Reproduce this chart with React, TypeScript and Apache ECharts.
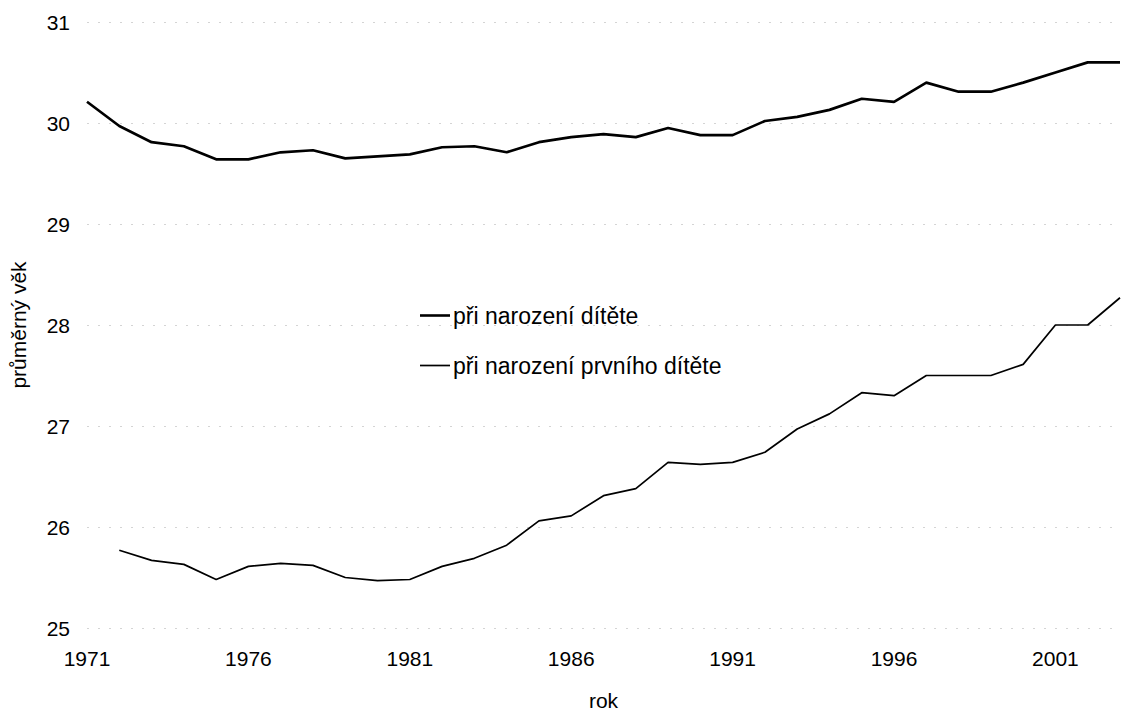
import React, { useEffect, useRef } from "react";
import * as echarts from "echarts";

const years: string[] = [
  "1971","1972","1973","1974","1975","1976","1977","1978","1979","1980",
  "1981","1982","1983","1984","1985","1986","1987","1988","1989","1990",
  "1991","1992","1993","1994","1995","1996","1997","1998","1999","2000",
  "2001","2002","2003",
];

const seriesNames: string[] = ["při narození dítěte", "při narození prvního dítěte"];

const ageAtBirth: number[] = [
  30.21, 29.97, 29.81, 29.77, 29.64, 29.64, 29.71, 29.73, 29.65, 29.67,
  29.69, 29.76, 29.77, 29.71, 29.81, 29.86, 29.89, 29.86, 29.95, 29.88,
  29.88, 30.02, 30.06, 30.13, 30.24, 30.21, 30.40, 30.31, 30.31, 30.40,
  30.50, 30.60, 30.60,
];

const ageAtFirstBirth: (number | null)[] = [
  null, 25.77, 25.67, 25.63, 25.48, 25.61, 25.64, 25.62, 25.50, 25.47,
  25.48, 25.61, 25.69, 25.82, 26.06, 26.11, 26.31, 26.38, 26.64, 26.62,
  26.64, 26.74, 26.97, 27.12, 27.33, 27.30, 27.50, 27.50, 27.50, 27.61,
  28.00, 28.00, 28.27,
];

const yMin = 25;
const yMax = 31;
const yStep = 1;

const FONT = "Arial, 'Liberation Sans', Helvetica, sans-serif";

export default function App() {
  const ref = useRef<HTMLDivElement>(null);

  useEffect(() => {
    document.body.style.margin = "0";
    if (!ref.current) return;
    const chart = echarts.init(ref.current, undefined, { renderer: "svg" });
    chart.setOption({
      animation: false,
      backgroundColor: "#ffffff",
      textStyle: { fontFamily: FONT, color: "#000" },
      grid: { left: 80, right: 2, top: 22, bottom: 74, containLabel: false },
      legend: {
        data: [
          { name: seriesNames[0], icon: "path://M0,0 L30,0 L30,2.6 L0,2.6 Z" },
          { name: seriesNames[1], icon: "path://M0,0 L30,0 L30,1.7 L0,1.7 Z" },
        ],
        orient: "vertical",
        left: 415,
        top: 299,
        itemWidth: 30,
        itemHeight: 3,
        itemGap: 27,
        itemStyle: { color: "#000" },
        textStyle: { fontFamily: FONT, fontSize: 23, color: "#000", padding: [0, 0, 0, -2] },
      },
      xAxis: {
        type: "category",
        data: years,
        boundaryGap: false,
        name: "rok",
        nameLocation: "middle",
        nameGap: 62,
        nameTextStyle: { fontFamily: FONT, fontSize: 21, color: "#000" },
        axisLine: { show: false },
        axisTick: { show: false },
        axisLabel: {
          interval: 4,
          margin: 20,
          fontFamily: FONT,
          fontSize: 21,
          color: "#000",
        },
        splitLine: { show: false },
      },
      yAxis: {
        type: "value",
        min: yMin,
        max: yMax,
        interval: yStep,
        name: "průměrný věk",
        nameLocation: "middle",
        nameRotate: 90,
        nameGap: 58,
        nameTextStyle: { fontFamily: FONT, fontSize: 21, color: "#000" },
        axisLine: { show: false },
        axisTick: { show: false },
        axisLabel: {
          margin: 17,
          fontFamily: FONT,
          fontSize: 21,
          color: "#000",
        },
        splitLine: {
          show: true,
          lineStyle: { color: "#d4d4d4", width: 1, type: [2, 9] },
        },
      },
      series: [
        {
          name: seriesNames[0],
          type: "line",
          data: ageAtBirth,
          symbol: "none",
          lineStyle: { color: "#000", width: 2.7 },
          itemStyle: { color: "#000" },
        },
        {
          name: seriesNames[1],
          type: "line",
          data: ageAtFirstBirth,
          symbol: "none",
          connectNulls: false,
          lineStyle: { color: "#000", width: 1.7 },
          itemStyle: { color: "#000" },
        },
      ],
    });
    return () => chart.dispose();
  }, []);

  return <div ref={ref} style={{ width: 1122, height: 716 }} />;
}
